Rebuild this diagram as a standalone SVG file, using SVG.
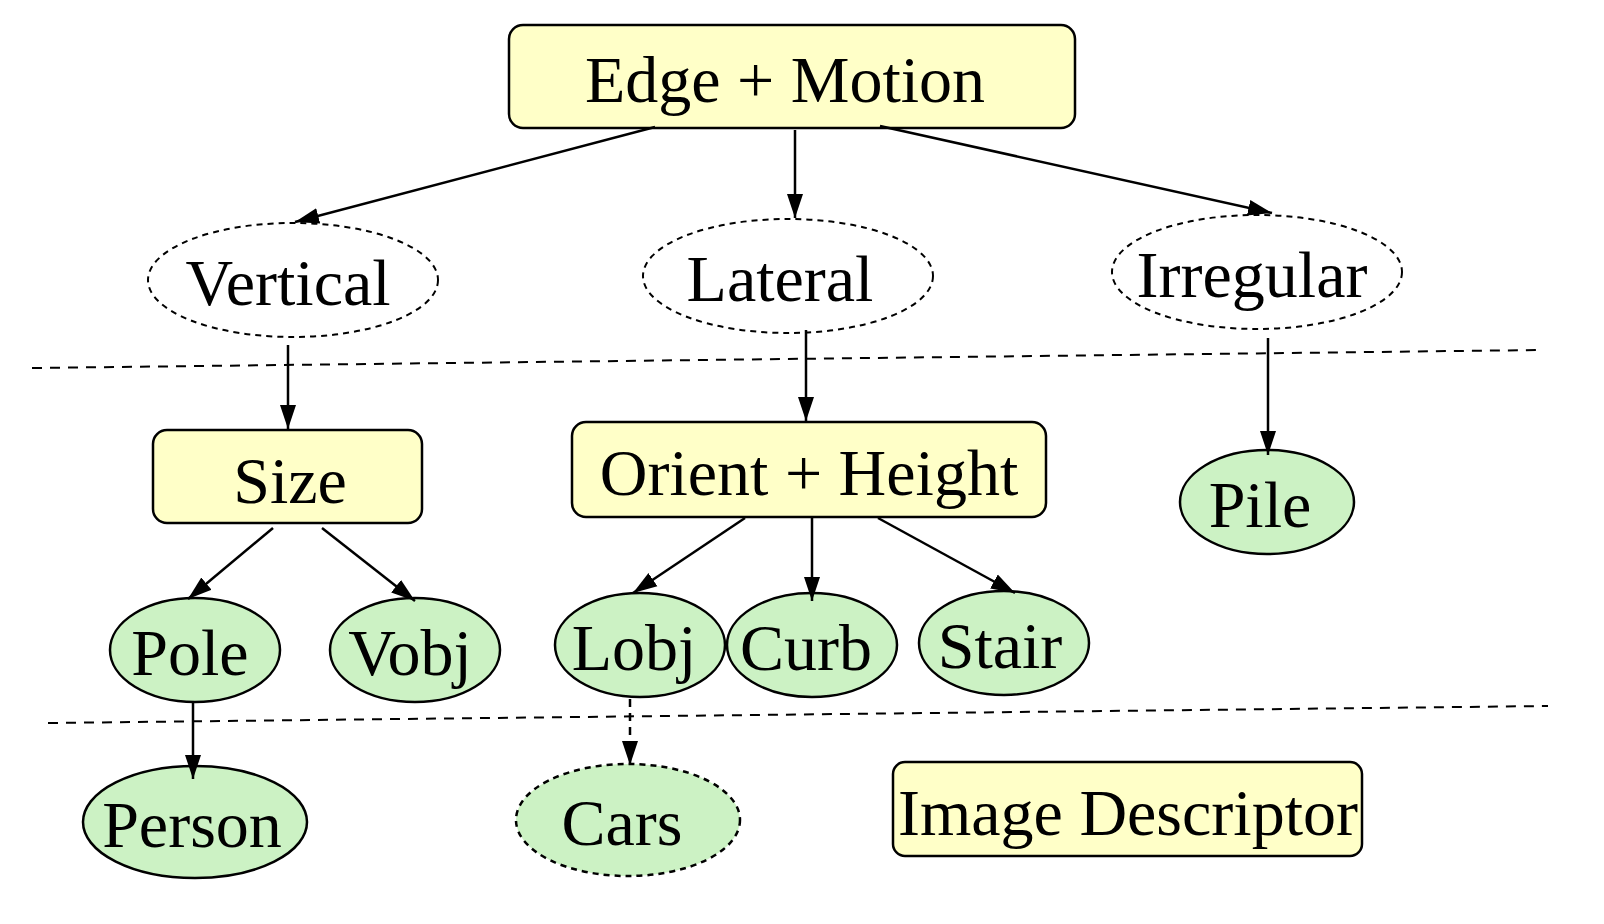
<svg xmlns="http://www.w3.org/2000/svg" width="1604" height="924" viewBox="0 0 1604 924">
<style>
.box{fill:#ffffc8;stroke:#000;stroke-width:2.5}
.ell{fill:#fff;stroke:#000;stroke-width:2;stroke-dasharray:6 5}
.leaf{fill:#ccf2c4;stroke:#000;stroke-width:2.5}
.t{font-family:"Liberation Serif",serif;font-size:66px;text-anchor:middle;fill:#000}
.c{stroke:#000;stroke-width:2.5;fill:none;marker-end:url(#a)}
.sep{stroke:#000;stroke-width:2;stroke-dasharray:10 8}
</style>
<defs><marker id="a" markerWidth="24" markerHeight="20" refX="24" refY="10" orient="auto" markerUnits="userSpaceOnUse" viewBox="0 0 24 20"><path d="M0,2 L24,10 L0,18 z" fill="#000"/></marker></defs>
<rect width="1604" height="924" fill="#fff"/>
<line class="sep" x1="32" y1="368" x2="1540" y2="350"/>
<line class="sep" x1="48" y1="723" x2="1548" y2="706"/>
<g id="edge"><rect class="box" x="509" y="25" width="566" height="103" rx="14"/><text class="t" x="785" y="102">Edge + Motion</text></g>
<g id="vertical"><ellipse class="ell" cx="293" cy="280" rx="145" ry="57"/><text class="t" x="288" y="305">Vertical</text></g>
<g id="lateral"><ellipse class="ell" cx="788" cy="276" rx="145" ry="57"/><text class="t" x="780" y="301">Lateral</text></g>
<g id="irregular"><ellipse class="ell" cx="1257" cy="272" rx="145" ry="57"/><text class="t" x="1252" y="297">Irregular</text></g>
<g id="size"><rect class="box" x="153" y="430" width="269" height="93" rx="14"/><text class="t" x="290" y="503">Size</text></g>
<g id="orient"><rect class="box" x="572" y="422" width="474" height="95" rx="14"/><text class="t" x="809" y="495">Orient + Height</text></g>
<g id="pile"><ellipse class="leaf" cx="1267" cy="502" rx="87" ry="52"/><text class="t" x="1260" y="527">Pile</text></g>
<g id="pole"><ellipse class="leaf" cx="195" cy="650" rx="85" ry="52"/><text class="t" x="190" y="675">Pole</text></g>
<g id="vobj"><ellipse class="leaf" cx="415" cy="650" rx="85" ry="52"/><text class="t" x="410" y="675">Vobj</text></g>
<g id="lobj"><ellipse class="leaf" cx="640" cy="645" rx="85" ry="52"/><text class="t" x="634" y="670">Lobj</text></g>
<g id="curb"><ellipse class="leaf" cx="812" cy="645" rx="85" ry="52"/><text class="t" x="806" y="670">Curb</text></g>
<g id="stair"><ellipse class="leaf" cx="1004" cy="643" rx="85" ry="52"/><text class="t" x="1000" y="668">Stair</text></g>
<g id="person"><ellipse class="leaf" cx="195" cy="822" rx="112" ry="56"/><text class="t" x="192" y="847">Person</text></g>
<g id="cars"><ellipse class="leaf" cx="628" cy="820" rx="112" ry="56" stroke-dasharray="6 5" stroke-width="2"/><text class="t" x="622" y="845">Cars</text></g>
<g id="descriptor"><rect class="box" x="893" y="762" width="469" height="94" rx="12"/><text class="t" x="1128" y="835">Image Descriptor</text></g>
<g id="connectors">
<line class="c" x1="655" y1="127" x2="295" y2="222"/>
<line class="c" x1="795" y1="130" x2="795" y2="218"/>
<line class="c" x1="880" y1="126" x2="1272" y2="213"/>
<line class="c" x1="288" y1="345" x2="288" y2="429"/>
<line class="c" x1="806" y1="330" x2="806" y2="421"/>
<line class="c" x1="1268" y1="338" x2="1268" y2="455"/>
<line class="c" x1="273" y1="528" x2="188" y2="599"/>
<line class="c" x1="322" y1="528" x2="415" y2="601"/>
<line class="c" x1="745" y1="518" x2="633" y2="593"/>
<line class="c" x1="812" y1="518" x2="812" y2="601"/>
<line class="c" x1="878" y1="518" x2="1015" y2="593"/>
<line class="c" x1="193" y1="703" x2="193" y2="779"/>
<line class="c" x1="630" y1="699" x2="630" y2="765" stroke-dasharray="8 6"/>
</g>
</svg>
